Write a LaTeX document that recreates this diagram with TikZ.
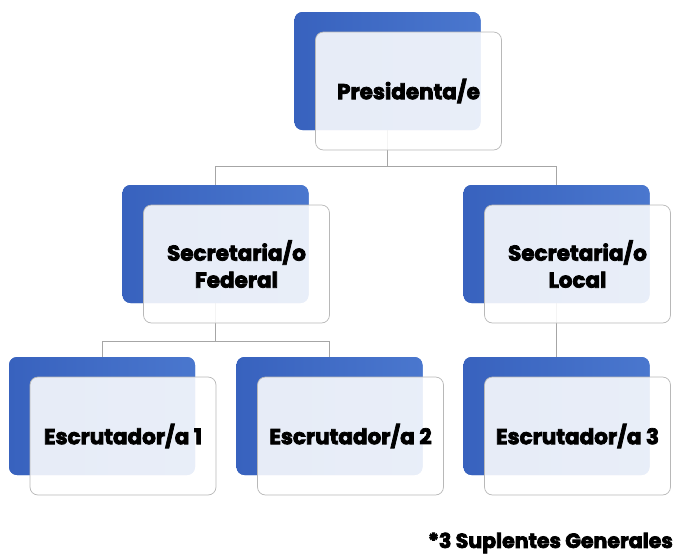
\documentclass[tikz,border=0pt]{standalone}
\usepackage{fontspec}
\setmainfont{Poppins}
\newfontfamily\gruesa{Poppins Bold}[FakeBold=3.5]
\usetikzlibrary{calc}

\definecolor{cargoazul}{HTML}{4A77CE}
\definecolor{cargoazulosc}{HTML}{3862BE}
\definecolor{lineagris}{HTML}{A6A6A6}

\tikzset{
  fondo/.style={rounded corners=8pt, minimum width=186pt, minimum height=118pt,
    left color=cargoazulosc, right color=cargoazul, draw=none},
  cargo/.style={rounded corners=8pt, minimum width=186pt, minimum height=118pt,
    fill=white, fill opacity=.88, text opacity=1, draw=lineagris!80, line width=.7pt,
    align=center, font=\fontsize{21.5}{27}\gruesa},
  rama/.style={draw=lineagris, line width=.7pt}
}

\begin{document}
\begin{tikzpicture}[x=1pt, y=-1pt]
  \useasboundingbox (0, 0) rectangle (673, 555);

      % cajas de fondo
      \node[fondo](pres-b) at (387.5, 71){};
      \node[fondo](fed-b) at (215.5, 244){};
      \node[fondo](loc-b) at (556.5, 244){};
      \node[fondo](esc1-b) at (102, 416){};
      \node[fondo](esc2-b) at (329.5, 416){};
      \node[fondo](esc3-b) at (556.5, 416){};

      % ramas
      \coordinate(pres-j) at (387.5, 166);
      \coordinate(fed-j) at (215.5, 341);
        \draw[rama](pres-b.center) to (pres-j);
        \draw[rama](pres-j) -| (fed-b.center);
        \draw[rama](pres-j) -| (loc-b.center);
        \draw[rama](fed-b.center) to (fed-j);
        \draw[rama](fed-j) -| (esc1-b.center);
        \draw[rama](fed-j) -| (esc2-b.center);
        \draw[rama](loc-b.center) to (esc3-b.center);

      % las cajas de fondo tapan las ramas
      \node[fondo] at (pres-b){};
      \node[fondo] at (fed-b){};
      \node[fondo] at (loc-b){};
      \node[fondo] at (esc1-b){};
      \node[fondo] at (esc2-b){};
      \node[fondo] at (esc3-b){};

      % cargos
      \node[cargo](pres) at (408.5, 91){Presidenta/e};
      \node[cargo](fed) at (236.5, 264){Secretaria/o\\Federal};
      \node[cargo](loc) at (577.5, 264){Secretaria/o\\Local};
      \node[cargo](esc1) at (123, 436){Escrutador/a 1};
      \node[cargo](esc2) at (350.5, 436){Escrutador/a 2};
      \node[cargo](esc3) at (577.5, 436){Escrutador/a 3};

      \node[anchor=east, inner sep=0pt, font=\fontsize{20.5}{22}\gruesa](supl) at (673, 543){*3 Suplentes Generales};

\end{tikzpicture}
\end{document}
